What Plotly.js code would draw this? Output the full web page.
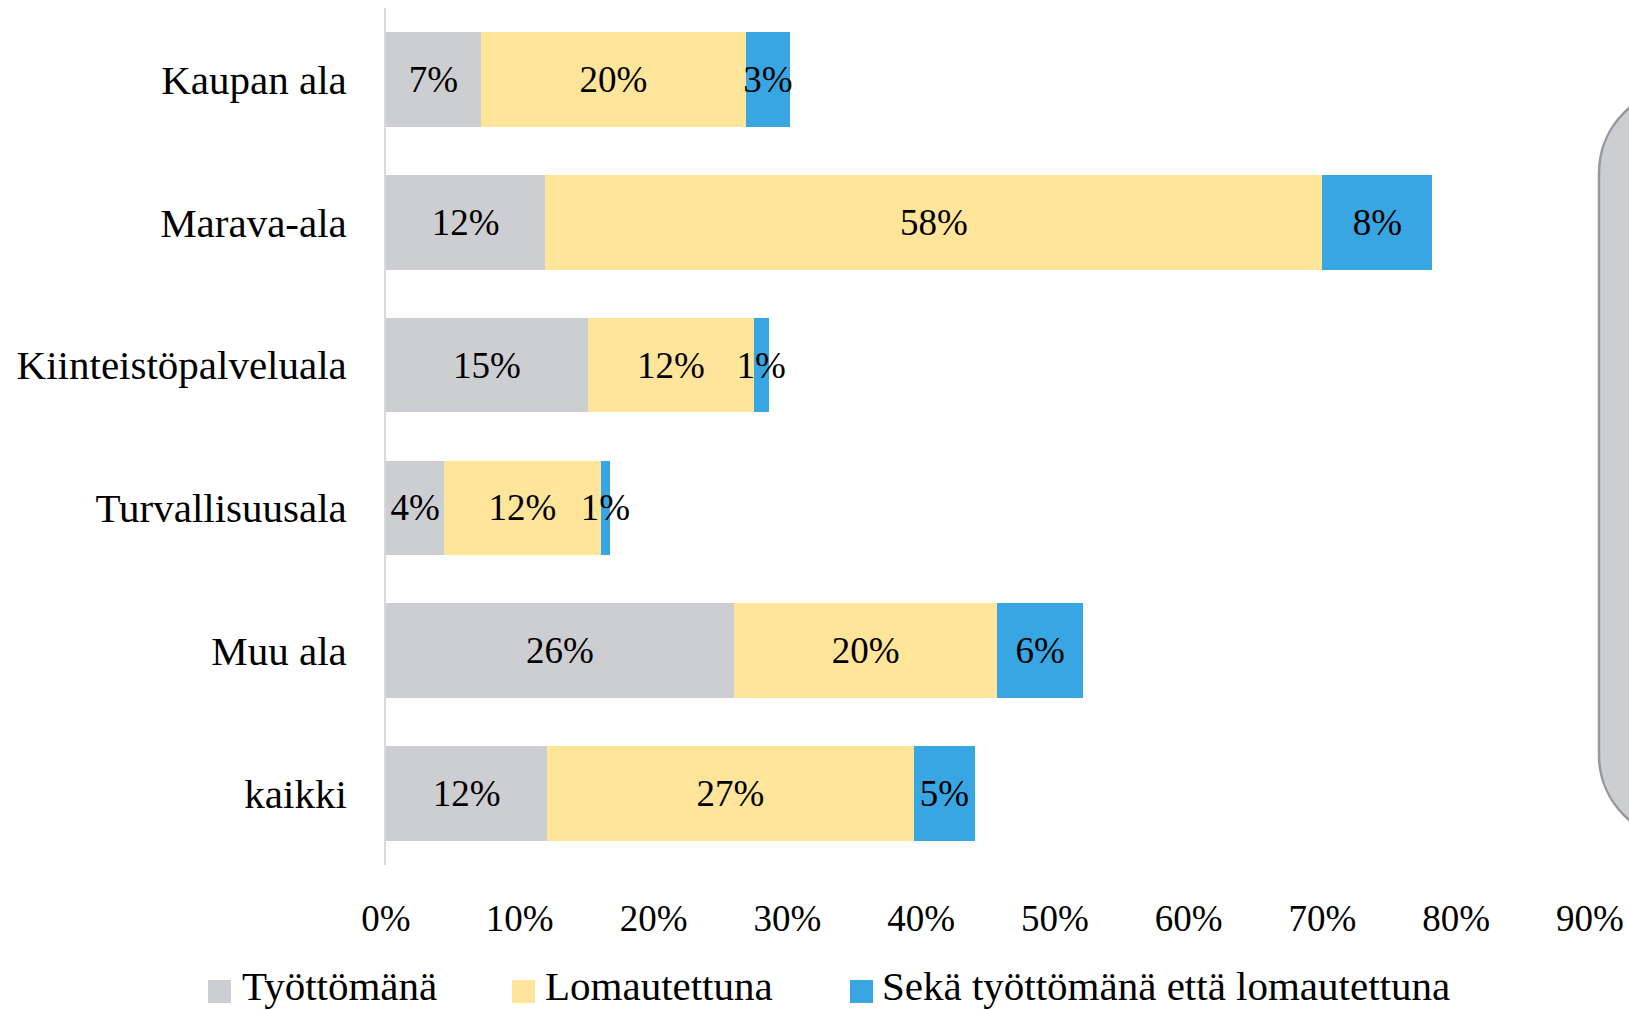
<!DOCTYPE html>
<html><head><meta charset="utf-8">
<script src="https://cdn.plot.ly/plotly-3.0.1.min.js"></script>
<style>html,body{margin:0;padding:0;background:#fff;overflow:hidden}</style>
</head><body>
<div id="chart" style="width:1629px;height:1010px"></div>
<script>
// ---- data ----
const categories = ["Kaupan ala", "Marava-ala", "Kiinteistöpalveluala", "Turvallisuusala", "Muu ala", "kaikki"];
const seriesNames = ["Työttömänä", "Lomautettuna", "Sekä työttömänä että lomautettuna"];
const tyottomana   = [7.1, 11.9, 15.1, 4.35, 26.0, 12.05];
const lomautettuna = [19.8, 58.1, 12.4, 11.7, 19.7, 27.4];
const molemmat     = [3.3, 8.2, 1.1, 0.7, 6.4, 4.6];
const tickValues = [0, 10, 20, 30, 40, 50, 60, 70, 80, 90];
const tickLabels = ["0%", "10%", "20%", "30%", "40%", "50%", "60%", "70%", "80%", "90%"];

// ---- style ----
const seriesValues = [tyottomana, lomautettuna, molemmat];
const colors = ["#CDCED2", "#FFE599", "#38A6E2"];
const FONT = '"Liberation Serif", "Times New Roman", serif';
const W = 1629, H = 1010;
const M = {l: 386, r: 39, t: 8, b: 145};
const PW = W - M.l - M.r, PH = H - M.t - M.b;
const px = x => (x - M.l) / PW;
const py = y => (H - M.b - y) / PH;

const traces = seriesValues.map((vals, i) => ({
  type: 'bar',
  orientation: 'h',
  name: seriesNames[i],
  y: categories,
  x: vals,
  marker: {color: colors[i], line: {width: 0}},
  texttemplate: '%{x:.0f}%',
  textposition: 'inside',
  insidetextanchor: 'middle',
  textangle: 0,
  constraintext: 'none',
  textfont: {family: FONT, size: 37, color: '#000'},
  hoverinfo: 'none',
  showlegend: false,
  cliponaxis: false
}));

// rounded grey box at right edge (cut off)
const kB = 0.5523, rB = 85, bxB = 1599, topB = 88, botB = 840, farB = 1720;
const boxPath = [
  `M${px(farB)},${py(topB)}`,
  `L${px(bxB + rB)},${py(topB)}`,
  `C${px(bxB + rB - kB * rB)},${py(topB)} ${px(bxB)},${py(topB + rB - kB * rB)} ${px(bxB)},${py(topB + rB)}`,
  `L${px(bxB)},${py(botB - rB)}`,
  `C${px(bxB)},${py(botB - rB + kB * rB)} ${px(bxB + rB - kB * rB)},${py(botB)} ${px(bxB + rB)},${py(botB)}`,
  `L${px(farB)},${py(botB)}`,
  'Z'
].join(' ');

const shapes = [{
  type: 'path', xref: 'paper', yref: 'paper', path: boxPath,
  fillcolor: '#CDCED2', line: {color: '#97989B', width: 2.5}, layer: 'below'
}];

// legend (manual, to match large square keys)
const legendSquareX = [208, 512, 850];
const legendTextX = [241, 544, 881];
const annotations = [];
seriesNames.forEach((nm, i) => {
  shapes.push({
    type: 'rect', xref: 'paper', yref: 'paper',
    x0: px(legendSquareX[i]), x1: px(legendSquareX[i] + 23),
    y0: py(980), y1: py(1003),
    fillcolor: colors[i], line: {width: 0}
  });
  annotations.push({
    xref: 'paper', yref: 'paper', x: px(legendTextX[i]), y: py(1010),
    xanchor: 'left', yanchor: 'bottom', showarrow: false,
    text: nm, font: {family: FONT, size: 41, color: '#000'}, borderpad: 0
  });
});

const layout = {
  width: W, height: H,
  margin: {l: M.l, r: M.r, t: M.t, b: M.b, pad: 0, autoexpand: false},
  paper_bgcolor: '#fff', plot_bgcolor: 'rgba(0,0,0,0)',
  barmode: 'stack',
  bargap: 0.338,
  showlegend: false,
  font: {family: FONT, color: '#000'},
  xaxis: {
    range: [0, 90], tickvals: tickValues, ticktext: tickLabels,
    showgrid: false, zeroline: false, showline: false, ticks: '',
    tickfont: {family: FONT, size: 37, color: '#000'},
    ticklabelstandoff: 28, fixedrange: true
  },
  yaxis: {
    type: 'category', categoryorder: 'array', categoryarray: categories,
    autorange: 'reversed',
    showgrid: false, zeroline: false, showline: true,
    linecolor: '#D9D9D9', linewidth: 2, ticks: '',
    tickfont: {family: FONT, size: 41, color: '#000'},
    ticklabelstandoff: 29, fixedrange: true
  },
  shapes: shapes,
  annotations: annotations
};

Plotly.newPlot('chart', traces, layout, {displayModeBar: false, staticPlot: true});
</script>
</body></html>
